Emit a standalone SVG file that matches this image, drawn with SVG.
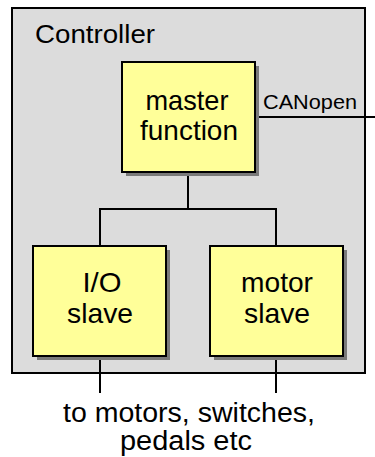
<svg xmlns="http://www.w3.org/2000/svg" width="375" height="457" viewBox="0 0 375 457">
<style>
.t{font-family:"Liberation Sans",Arial,sans-serif;fill:#000;text-anchor:middle}
.box{fill:#ffff99;stroke:#000;stroke-width:2}
.sh{fill:#7a7a7a}
.ln{stroke:#000;stroke-width:2;fill:none}
</style>
<rect width="375" height="457" fill="#fff"/>
<g id="controller">
<rect x="12" y="8" width="353" height="365" fill="#dcdcdc" stroke="#000" stroke-width="2"/>
<text class="t" x="95" y="43" font-size="25" textLength="120" lengthAdjust="spacingAndGlyphs">Controller</text>
</g>
<g id="connectors">
<path class="ln" d="M255 117H375"/>
<path class="ln" d="M188 172V209M100 246V209H276V246"/>
<path class="ln" d="M100 356V393M276 356V393"/>
<text class="t" x="310" y="109" font-size="21" textLength="94" lengthAdjust="spacingAndGlyphs">CANopen</text>
</g>
<g id="master">
<rect class="sh" x="126" y="66" width="133" height="110"/>
<rect class="box" x="122" y="62" width="133" height="110"/>
<text class="t" x="187" y="110" font-size="28" textLength="83" lengthAdjust="spacingAndGlyphs">master</text>
<text class="t" x="189" y="140" font-size="28" textLength="98" lengthAdjust="spacingAndGlyphs">function</text>
</g>
<g id="io-slave">
<rect class="sh" x="37" y="250" width="133" height="110"/>
<rect class="box" x="33" y="246" width="133" height="110"/>
<text class="t" x="102" y="292" font-size="28" textLength="39" lengthAdjust="spacingAndGlyphs">I/O</text>
<text class="t" x="100" y="323" font-size="28" textLength="66" lengthAdjust="spacingAndGlyphs">slave</text>
</g>
<g id="motor-slave">
<rect class="sh" x="214" y="250" width="133" height="110"/>
<rect class="box" x="210" y="246" width="133" height="110"/>
<text class="t" x="277" y="292" font-size="28" textLength="72" lengthAdjust="spacingAndGlyphs">motor</text>
<text class="t" x="277" y="323" font-size="28" textLength="66" lengthAdjust="spacingAndGlyphs">slave</text>
</g>
<g id="external">
<text class="t" x="189" y="422" font-size="27" textLength="252" lengthAdjust="spacingAndGlyphs">to motors, switches,</text>
<text class="t" x="186" y="450" font-size="27" textLength="132" lengthAdjust="spacingAndGlyphs">pedals etc</text>
</g>
</svg>
